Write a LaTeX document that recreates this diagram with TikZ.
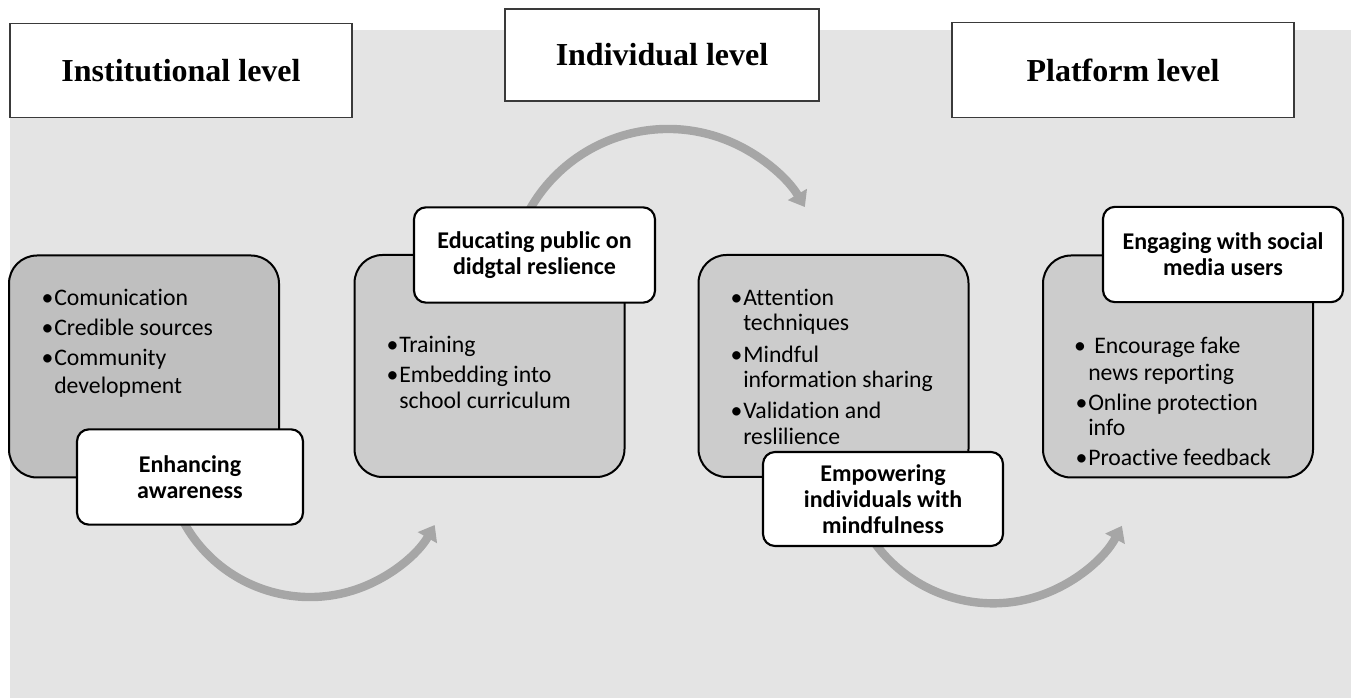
\documentclass[tikz,border=0pt]{standalone}
\usepackage{fontspec}
\setmainfont{Carlito}[Ligatures={NoCommon}]
\newfontfamily\serifhd{Liberation Serif}
\usetikzlibrary{arrows.meta}
\definecolor{bggray}{HTML}{E4E4E4}
\definecolor{carddark}{HTML}{BFBFBF}
\definecolor{cardlight}{HTML}{CCCCCC}
\definecolor{flowgray}{HTML}{A6A6A6}
\definecolor{hdborder}{HTML}{3A3A3A}
\tikzset{
  header/.style={draw=hdborder, line width=0.9pt, fill=white, inner sep=0pt,
    minimum height=71pt, font=\serifhd\bfseries\fontsize{24}{28}\selectfont},
  card/.style={draw=black, line width=1.5pt, rounded corners=21pt,
    minimum width=202.5pt, minimum height=166.5pt, inner sep=0pt},
  tagbox/.style={draw=black, line width=1.6pt, fill=white, rounded corners=9pt,
    minimum height=71.5pt, inner sep=0pt, align=center,
    font=\bfseries\fontsize{18}{19.5}\selectfont},
  itm/.style={anchor=base west, inner sep=0pt, font=\fontsize{17.8}{19.5}\selectfont},
  bul/.style={anchor=base, inner sep=0pt, font=\fontsize{17.8}{19.5}\selectfont},
  flow/.style={draw=flowgray, line width=6.3pt, -{Triangle[length=11pt,width=16pt]}},
}
\begin{document}
\begin{tikzpicture}[x=0.75pt,y=-0.75pt]
\useasboundingbox (0,0) rectangle (1357,698);
\fill[bggray] (10,30) rectangle (1351,698);
% headers
\node[header, minimum width=256.5pt] (hinst) at (181,70.5) {Institutional level};
\node[header, minimum width=235.5pt, minimum height=69pt] (hind) at (662,55) {Individual level};
\node[header, minimum width=256.5pt] (hplat) at (1123,70) {Platform level};
% cards
\node[card, fill=carddark] (card1) at (144,366.5) {};
\node[card, fill=cardlight] (card2) at (489.5,366) {};
\node[card, fill=cardlight] (card3) at (833.5,366) {};
\node[card, fill=cardlight] (card4) at (1178,366.5) {};
% arrows
\coordinate (a1c) at (310,453);
\coordinate (a2c) at (668,288);
\coordinate (a3c) at (993,457.3);
\draw[flow] (a1c) ++(200:108pt) arc[start angle=200, end angle=330, radius=108pt];
\draw[flow] (a2c) ++(155:119.25pt) arc[start angle=155, end angle=30.6, radius=119.25pt];
\draw[flow] (a3c) ++(200:109.5pt) arc[start angle=200, end angle=332, radius=109.5pt];
% tag boxes
\node[tagbox, minimum width=169.5pt] (t1) at (190,477) {Enhancing\\awareness};
\node[tagbox, minimum width=180.75pt] (t2) at (534.5,255) {Educating public on\\didgtal reslience};
\node[tagbox, minimum width=180pt, minimum height=70.5pt] (t3) at (883,499) {Empowering\\individuals with\\mindfulness};
\node[tagbox, minimum width=180pt] (t4) at (1223,254.5) {Engaging with social\\media users};
% card texts
\foreach \n/\x/\y/\t in {
  c1l1/54/305.5/Comunication, c1l2/54/335.5/Credible sources, c1l3/54/365.5/Community, c1l4/54/393.5/development,
  c2l1/399/352.5/Training, c2l2/399/382.5/Embedding into, c2l3/399/408.5/school curriculum,
  c3l1/743/305.5/Attention, c3l2/743/330.5/techniques, c3l3/743/362.5/Mindful, c3l4/743/387.5/information sharing, c3l5/743/418.5/Validation and, c3l6/743/444.5/reslilience,
  c4l1/1094/353.5/Encourage fake, c4l2/1088/380.5/news reporting, c4l3/1088/410.5/Online protection, c4l4/1088/435.5/info, c4l5/1088/465.5/Proactive feedback}
  \node[itm] (\n) at (\x,\y) {\t};
\foreach \n/\x/\y in {
  c1b1/47.5/305.5, c1b2/47.5/335.5, c1b3/47.5/365.5,
  c2b1/392.5/352.5, c2b2/392.5/382.5,
  c3b1/736.5/305.5, c3b2/736.5/362.5, c3b3/736.5/418.5,
  c4b1/1080/353.5, c4b2/1081.5/410.5, c4b3/1081.5/465.5}
  \node[bul] (\n) at (\x,\y) {•};
\end{tikzpicture}
\end{document}
